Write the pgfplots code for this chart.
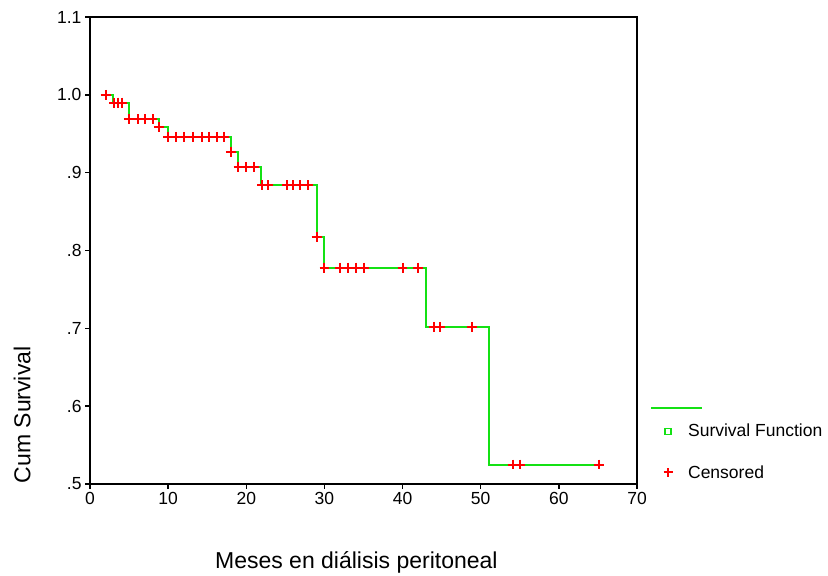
\documentclass[border=0pt]{standalone}
\usepackage{fontspec}
\setmainfont{Liberation Sans}
\usepackage{pgfplots}
\pgfplotsset{compat=1.18}
\definecolor{kmgreen}{RGB}{20,225,20}
\definecolor{kmred}{RGB}{255,0,0}
\begin{document}
\begin{tikzpicture}[x=1bp,y=1bp]
\path[use as bounding box] (0,0) rectangle (828,576);
\begin{axis}[
  at={(90bp,92bp)}, anchor=south west,
  scale only axis, width=547bp, height=467bp,
  xmin=0, xmax=70, ymin=0.5, ymax=1.1,
  xtick={0,10,20,30,40,50,60,70},
  xticklabels={0,10,20,30,40,50,60,70},
  ytick={0.5,0.6,0.7,0.8,0.9,1.0,1.1},
  yticklabels={.5,.6,.7,.8,.9,1.0,1.1},
  xtick pos=bottom, ytick pos=left,
  tick align=outside, major tick length=5bp,
  axis line style={line width=1.8bp},
  every tick/.style={line width=1.5bp, black},
  tick label style={font=\fontsize{17.5bp}{20bp}\selectfont},
  /pgf/number format/assume math mode=true,
  xlabel={Meses en diálisis peritoneal},
  ylabel={Cum Survival},
  label style={font=\fontsize{23bp}{27bp}\selectfont},
  xlabel style={at={(axis description cs:0.487,-0.18)}, anchor=base},
  ylabel style={at={(axis description cs:-0.124,0.148)}, anchor=center},
  clip=false,
  legend style={draw=none, fill=none, at={(axis description cs:1.02,0.173)}, anchor=north west,
    font=\fontsize{17.5bp}{20bp}\selectfont, row sep=0bp, legend cell align=left},
]
\addplot[const plot, kmgreen, line width=2bp, forget plot] coordinates {
(2,1.000) (3,0.990) (4.95,0.969) (8.85,0.959) (10,0.946) (18.05,0.927) (18.95,0.907)
(21.9,0.884) (29,0.817) (30,0.778) (43.05,0.702) (51,0.525) (65.1,0.525)};
\addplot[only marks, mark=+, mark size=4.9bp, kmred, line width=2bp, forget plot] coordinates {
(2,1.000)
(3.1,0.990) (3.6,0.990) (4.1,0.990)
(4.95,0.969) (6.1,0.969) (7,0.969) (8,0.969)
(8.85,0.959)
(10,0.946) (11,0.946) (12,0.946) (13.2,0.946) (14.3,0.946) (15.2,0.946) (16.2,0.946) (17.2,0.946)
(18,0.927)
(19,0.907) (20,0.907) (21,0.907)
(22,0.884) (22.8,0.884) (25.2,0.884) (26,0.884) (26.9,0.884) (27.9,0.884)
(29,0.817)
(30,0.778) (32,0.778) (33,0.778) (34.1,0.778) (35.1,0.778) (40,0.778) (42,0.778)
(44,0.702) (44.8,0.702) (48.9,0.702)
(54.1,0.525) (55,0.525) (65.1,0.525)};
\addlegendimage{kmgreen, line width=2bp, legend image code/.code={\draw[overlay] (0bp,0bp)--(51bp,0bp); \path[draw=none,fill=none] (0bp,-3bp) rectangle (35bp,3bp);}}
\addlegendentry{}
\addlegendimage{kmgreen, line width=1.3bp, legend image code/.code={\draw[overlay] (14bp,-9bp) rectangle (20bp,-3bp); \path[draw=none,fill=none] (0bp,-3bp) rectangle (35bp,3bp);}}
\addlegendentry{\rule{0pt}{23bp}Survival Function}
\addlegendimage{kmred, line width=1.8bp, legend image code/.code={\draw[overlay] (12.5bp,-11bp)--(21.5bp,-11bp) (17bp,-15.5bp)--(17bp,-6.5bp); \path[draw=none,fill=none] (0bp,-3bp) rectangle (35bp,3bp);}}
\addlegendentry{\rule{0pt}{37bp}Censored}
\end{axis}
\end{tikzpicture}
\end{document}
